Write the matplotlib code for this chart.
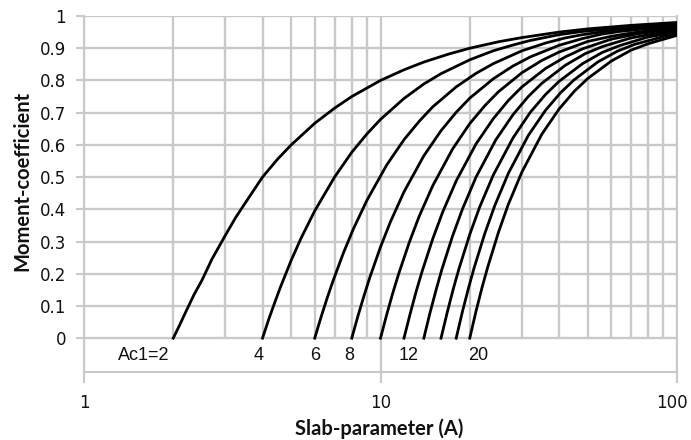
import matplotlib.pyplot as plt
from matplotlib.transforms import ScaledTranslation

# values: slab-parameter A (x) and moment-coefficient (y), one curve per Ac1
a_2 = [2, 2.1, 2.2, 2.35, 2.5, 2.7, 3, 3.25, 3.5, 4, 4.5, 5, 6, 7, 8, 10, 12, 14, 17, 20, 25, 30, 40, 50, 70, 100]
m_2 = [0, 0.04, 0.08, 0.135, 0.18, 0.245, 0.32, 0.375, 0.42, 0.5, 0.556, 0.6, 0.667, 0.714, 0.75, 0.8,
       0.833, 0.857, 0.882, 0.9, 0.92, 0.933, 0.95, 0.96, 0.971, 0.98]

a_4 = [4, 4.2, 4.4, 4.6, 5, 5.4, 6, 7, 8, 9, 10, 12, 14, 16, 20, 24, 28, 32, 40, 48, 60, 80, 100]
m_4 = [0, 0.059, 0.111, 0.159, 0.242, 0.311, 0.395, 0.5, 0.577, 0.634, 0.679, 0.744, 0.789, 0.821,
       0.864, 0.892, 0.91, 0.924, 0.942, 0.952, 0.96, 0.969, 0.976]

a_6 = [6, 6.3, 6.6, 6.9, 7.5, 8.1, 9, 10.5, 12, 13.5, 15, 18, 21, 24, 30, 36, 42, 48, 60, 72, 100]
m_6 = [0, 0.065, 0.123, 0.175, 0.265, 0.339, 0.428, 0.538, 0.616, 0.673, 0.718, 0.78, 0.822, 0.852,
       0.892, 0.916, 0.932, 0.942, 0.955, 0.962, 0.972]

a_8 = [8, 8.4, 8.8, 9.2, 10, 10.8, 12, 14, 16, 18, 20, 24, 28, 32, 40, 48, 56, 64, 80, 100]
m_8 = [0, 0.07, 0.132, 0.188, 0.283, 0.361, 0.454, 0.566, 0.644, 0.701, 0.745, 0.805, 0.845, 0.873,
       0.909, 0.93, 0.944, 0.952, 0.961, 0.968]

a_10 = [10, 10.5, 11, 11.5, 12.5, 13.5, 15, 17.5, 20, 22.5, 25, 30, 35, 40, 50, 60, 70, 80, 100]
m_10 = [0, 0.074, 0.14, 0.198, 0.297, 0.378, 0.473, 0.587, 0.666, 0.722, 0.765, 0.824, 0.862, 0.888,
        0.921, 0.937, 0.947, 0.954, 0.964]

a_12 = [12, 12.6, 13.2, 13.8, 15, 16.2, 18, 21, 24, 27, 30, 36, 42, 48, 60, 72, 84, 100]
m_12 = [0, 0.077, 0.146, 0.206, 0.308, 0.391, 0.488, 0.603, 0.681, 0.738, 0.78, 0.837, 0.873, 0.898,
        0.928, 0.943, 0.952, 0.96]

a_14 = [14, 14.7, 15.4, 16.1, 17.5, 18.9, 21, 24.5, 28, 31.5, 35, 42, 49, 56, 70, 84, 100]
m_14 = [0, 0.08, 0.15, 0.213, 0.317, 0.401, 0.5, 0.616, 0.694, 0.75, 0.791, 0.847, 0.883, 0.905,
        0.932, 0.945, 0.955]

a_16 = [16, 16.8, 17.6, 18.4, 20, 21.6, 24, 28, 32, 36, 40, 48, 56, 64, 80, 100]
m_16 = [0, 0.081, 0.153, 0.216, 0.322, 0.407, 0.506, 0.622, 0.701, 0.756, 0.797, 0.852, 0.887, 0.908,
        0.935, 0.95]

a_18 = [18, 18.9, 19.8, 20.7, 22.5, 24.3, 27, 31.5, 36, 40.5, 45, 54, 63, 72, 90, 100]
m_18 = [0, 0.083, 0.155, 0.219, 0.326, 0.412, 0.512, 0.629, 0.707, 0.762, 0.802, 0.857, 0.891, 0.912,
        0.936, 0.945]

a_20 = [20, 21, 22, 23, 25, 27, 30, 35, 40, 45, 50, 60, 70, 80, 100]
m_20 = [0, 0.084, 0.157, 0.221, 0.329, 0.416, 0.516, 0.633, 0.711, 0.766, 0.806, 0.86, 0.894, 0.914, 0.94]

curves = [(a_2, m_2), (a_4, m_4), (a_6, m_6), (a_8, m_8), (a_10, m_10),
          (a_12, m_12), (a_14, m_14), (a_16, m_16), (a_18, m_18), (a_20, m_20)]

curve_labels = ["Ac1=2", "4", "6", "8", "12", "20"]
curve_label_x = [1.59, 3.89, 6.0, 7.82, 12.4, 21.4]

y_ticks = [0, 0.1, 0.2, 0.3, 0.4, 0.5, 0.6, 0.7, 0.8, 0.9, 1]
y_tick_labels = ["0", "0.1", "0.2", "0.3", "0.4", "0.5", "0.6", "0.7", "0.8", "0.9", "1"]
x_ticks = [1, 10, 100]
x_tick_labels = ["1", "10", "100"]

grid_col = "#c9c9c9"

fig = plt.figure(figsize=(6.91, 4.40), dpi=100)
ax = fig.add_axes([84 / 691, 1 - 372 / 440, (677 - 84) / 691, (372 - 16) / 440])
ax.set_xscale("log")
ax.set_xlim(1, 100)
ax.set_ylim(-0.105, 1.0)

# horizontal grid 0..1
for yv in y_ticks:
    ax.axhline(yv, color=grid_col, lw=1.7, zorder=1)
# minor vertical grid only inside 0..1
minor_x = [2, 3, 4, 5, 6, 7, 8, 9, 20, 30, 40, 50, 60, 70, 80, 90]
ax.vlines(minor_x, 0, 1, color=grid_col, lw=1.7, zorder=1)
# major vertical grid full height
ax.vlines(x_ticks, -0.105, 1, color=grid_col, lw=1.7, zorder=1)

for a, m in curves:
    ax.plot(a, m, color="black", lw=2.0, solid_joinstyle="round", zorder=3)

for txt, xv in zip(curve_labels, curve_label_x):
    ax.text(xv, -0.053, txt, ha="center", va="center", fontsize=13,
            family="Liberation Sans", color="#111111")

ax.set_xticks(x_ticks)
ax.set_xticklabels(x_tick_labels)
ax.xaxis.set_minor_locator(plt.NullLocator())
ax.set_yticks(y_ticks)
ax.set_yticklabels(y_tick_labels)
ax.tick_params(axis="x", direction="out", length=8, width=1.5, color=grid_col,
               pad=8, labelsize=12, labelcolor="#111111")
ax.tick_params(axis="y", direction="out", length=6, width=1.5, color=grid_col,
               pad=7, labelsize=12, labelcolor="#111111")
# pull the "100" label in so it stays inside the figure
last = ax.get_xticklabels()[-1]
last.set_transform(last.get_transform() + ScaledTranslation(-5 / 100, 0, fig.dpi_scale_trans))

for side in ["left", "right", "bottom", "top"]:
    ax.spines[side].set_color(grid_col)
    ax.spines[side].set_linewidth(1.5)
ax.spines["top"].set_visible(False)

fig.text(22 / 691, 1 - 181 / 440, "Moment-coefficient", rotation=90, ha="center",
         va="center", fontsize=14.5, fontweight="bold", family="Lato", color="#111111")
fig.text(379 / 691, 1 - 429 / 440, "Slab-parameter (A)", ha="center", va="center",
         fontsize=14.5, fontweight="bold", family="Lato", color="#111111")

fig.savefig("out.png", dpi=100)
